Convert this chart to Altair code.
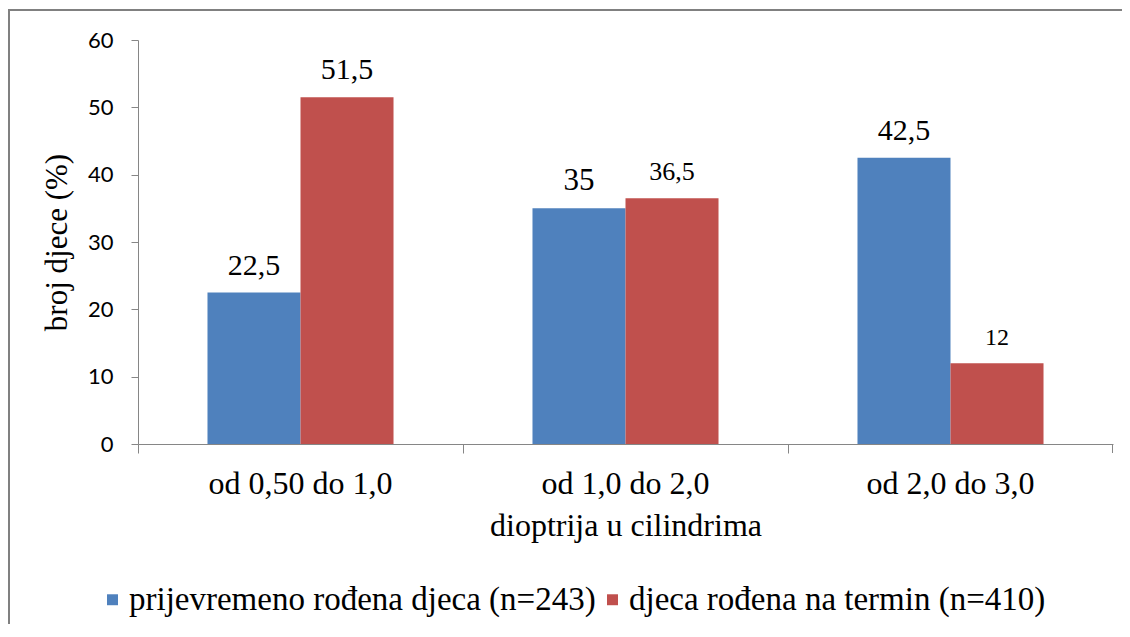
import altair as alt
import pandas as pd

categories = ["od 0,50 do 1,0", "od 1,0 do 2,0", "od 2,0 do 3,0"]
series = ["prijevremeno rođena djeca (n=243)", "djeca rođena na termin (n=410)"]
preterm = [22.5, 35, 42.5]
term = [51.5, 36.5, 12]
y_ticks = [0, 10, 20, 30, 40, 50, 60]

colors = ["#4F81BD", "#C0504D"]
preterm_label_px = [30, 31, 30]
term_label_px = [30, 26, 24]

rows = []
for vals, sizes, s in [(preterm, preterm_label_px, series[0]), (term, term_label_px, series[1])]:
    for c, v, fs in zip(categories, vals, sizes):
        lab = (f"{v:g}").replace(".", ",")
        rows.append({"cat": c, "series": s, "value": v, "label": lab, "fs": fs})
df = pd.DataFrame(rows)

W, H = 975, 404
GRAY = "#868686"
SERIF = "Liberation Serif"
SANS = "Lato"

x_enc = alt.X("cat:N", sort=categories,
              scale=alt.Scale(paddingInner=0, paddingOuter=0),
              axis=alt.Axis(title="dioptrija u cilindrima", bandPosition=0, labelAngle=0,
                            tickSize=9, labelPadding=15, labelFont=SERIF, labelFontSize=32,
                            labelLimit=0, labelColor="black", titleFont=SERIF, titleFontSize=32,
                            titleFontWeight="normal", titleColor="black", titlePadding=11,
                            domainColor=GRAY, tickColor=GRAY, grid=False))
xo_enc = alt.XOffset("series:N", sort=series,
                     scale=alt.Scale(paddingInner=0, paddingOuter=0.747))
y_enc = alt.Y("value:Q", scale=alt.Scale(domain=[0, 60], nice=False),
              axis=alt.Axis(title="broj djece (%)", values=y_ticks, tickSize=7, labelPadding=18,
                            labelFont=SANS, labelFontSize=22, labelColor="black",
                            titleFont=SERIF, titleFontSize=31, titleFontWeight="normal",
                            titleColor="black", titlePadding=14, domainColor=GRAY,
                            tickColor=GRAY, grid=False))

bars = alt.Chart(df).mark_bar().encode(
    x=x_enc, xOffset=xo_enc, y=y_enc,
    color=alt.Color("series:N", sort=series,
                    scale=alt.Scale(domain=series, range=colors),
                    legend=alt.Legend(title=None, orient="none", legendX=-42, legendY=543,
                                      direction="horizontal", symbolType="square",
                                      symbolSize=120, symbolStrokeWidth=0,
                                      labelFont=SERIF, labelFontSize=33, labelLimit=0,
                                      columnPadding=0, labelOffset=0, labelColor="black")),
)

labels = alt.Chart(df).mark_text(font=SERIF, color="black", baseline="alphabetic", dy=-18).encode(
    x=alt.X("cat:N", sort=categories), xOffset=alt.XOffset("series:N", sort=series),
    y="value:Q", text="label:N", size=alt.Size("fs:Q", scale=None, legend=None),
)

one = alt.Data(values=[{"k": 1}])
frame_left = alt.Chart(one).mark_rule(color="#808080", strokeWidth=2).encode(
    x=alt.value(-129), y=alt.value(-30), y2=alt.value(700))
frame_top = alt.Chart(one).mark_rule(color="#808080", strokeWidth=2).encode(
    x=alt.value(-130), x2=alt.value(1100), y=alt.value(-30))
end_tick = alt.Chart(one).mark_rule(color=GRAY, strokeWidth=1).encode(
    x=alt.value(W - 0.5), y=alt.value(H), y2=alt.value(H + 9))

chart = alt.layer(bars, labels, end_tick, frame_left, frame_top).properties(
    width=W, height=H,
    autosize=alt.AutoSizeParams(type="none"),
    padding={"left": 130, "top": 32, "right": 9, "bottom": 180},
).configure_view(stroke=None).configure_scale(bandPaddingInner=0)

chart.save("out.html", embed_options={"renderer": "svg", "actions": False})
